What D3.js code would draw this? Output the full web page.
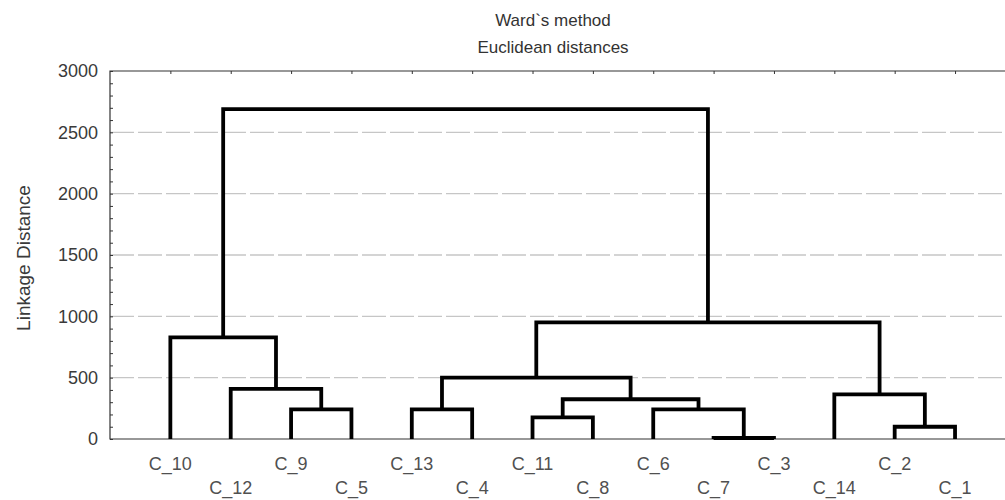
<!DOCTYPE html>
<html>
<head>
<meta charset="utf-8">
<script src="https://cdn.jsdelivr.net/npm/d3@7/dist/d3.min.js"></script>
<style>
  html, body { margin: 0; padding: 0; background: #fff; overflow: hidden; }
  svg { display: block; font-family: "Liberation Sans", Arial, sans-serif; }
</style>
</head>
<body>
<svg id="chart" width="1005" height="500"></svg>
<script>
// ---- data ----
const leaves = ["C_10","C_12","C_9","C_5","C_13","C_4","C_11","C_8","C_6","C_7","C_3","C_14","C_2","C_1"];
// merges: ids 0..13 are leaves, each merge creates id 14, 15, ...
const mergeLeft   = [9, 12, 6, 2, 4, 8, 16, 11, 1, 18, 0, 23, 24];
const mergeRight  = [10, 13, 7, 3, 5, 14, 19, 15, 17, 20, 22, 21, 25];
const mergeHeight = [8, 100, 177, 242, 242, 242, 324, 364, 408, 500, 829, 951, 2690];
const yTicks = [0, 500, 1000, 1500, 2000, 2500, 3000];
const titleLines = ["Ward`s method", "Euclidean distances"];
const yTitle = "Linkage Distance";

// ---- layout ----
const svg = d3.select("#chart");
const mLeft = 110, mTop = 71, mBottom = 439;
const x = d3.scaleLinear().domain([0, leaves.length + 1]).range([mLeft, 1015.4]);
const y = d3.scaleLinear().domain([0, 3000]).range([mBottom, mTop]);

// gridlines
svg.append("g").selectAll("line")
  .data(yTicks.filter(v => v > 0 && v < 3000))
  .join("line")
  .attr("x1", mLeft).attr("x2", 1005)
  .attr("y1", d => y(d)).attr("y2", d => y(d))
  .attr("stroke", "#c6c6c6").attr("stroke-width", 1.3)
  .attr("stroke-dasharray", "24,4");

// frame (top, left, bottom)
svg.append("path")
  .attr("d", `M1005,${mTop}H${mLeft}V${mBottom}H1005`)
  .attr("fill", "none").attr("stroke", "#333").attr("stroke-width", 1.2);

// left axis: minor ticks every 100 inward, labels at 500s
const yAxis = d3.axisLeft(y)
  .tickValues(d3.range(0, 3001, 100))
  .tickSize(-3)
  .tickPadding(12)
  .tickFormat(d => (d % 500 === 0 ? d : ""));
const gy = svg.append("g").attr("transform", `translate(${mLeft},0)`).call(yAxis);
gy.select(".domain").remove();
gy.selectAll(".tick line").attr("stroke", "#333");
gy.selectAll(".tick text")
  .attr("font-size", 18).attr("fill", "#3a3a3a")
  .attr("font-family", "'Liberation Sans', Arial, sans-serif");

// top axis: ticks at leaf positions
const xAxis = d3.axisTop(x)
  .tickValues(d3.range(1, leaves.length + 1))
  .tickSize(-3)
  .tickFormat("");
const gx = svg.append("g").attr("transform", `translate(0,${mTop})`).call(xAxis);
gx.select(".domain").remove();
gx.selectAll(".tick line").attr("stroke", "#333");

// ---- dendrogram ----
const pos = leaves.map((_, i) => x(i + 1));
const hgt = leaves.map(() => 0);
const links = [];
mergeLeft.forEach((a, k) => {
  const b = mergeRight[k], h = mergeHeight[k];
  links.push({ xa: pos[a], ha: hgt[a], xb: pos[b], hb: hgt[b], h });
  pos.push((pos[a] + pos[b]) / 2);
  hgt.push(h);
});
svg.append("g").selectAll("path")
  .data(links)
  .join("path")
  .attr("d", d => `M${d.xa},${y(d.ha)}V${y(d.h)}H${d.xb}V${y(d.hb)}`)
  .attr("fill", "none")
  .attr("stroke", "#000")
  .attr("stroke-width", 3.8)
  .attr("stroke-linejoin", "miter");

// leaf labels (two staggered rows)
svg.append("g").selectAll("text")
  .data(leaves)
  .join("text")
  .attr("x", (d, i) => x(i + 1))
  .attr("y", (d, i) => (i % 2 === 0 ? 470 : 494))
  .attr("text-anchor", "middle")
  .attr("font-size", 18)
  .attr("fill", "#505050")
  .text(d => d);

// titles
svg.append("g").selectAll("text")
  .data(titleLines)
  .join("text")
  .attr("x", 553)
  .attr("y", (d, i) => 26 + i * 27)
  .attr("text-anchor", "middle")
  .attr("font-size", 17)
  .attr("fill", "#333")
  .text(d => d);

svg.append("text")
  .attr("transform", `translate(30,258) rotate(-90)`)
  .attr("text-anchor", "middle")
  .attr("font-size", 19)
  .attr("fill", "#3a3a3a")
  .text(yTitle);
</script>
</body>
</html>
